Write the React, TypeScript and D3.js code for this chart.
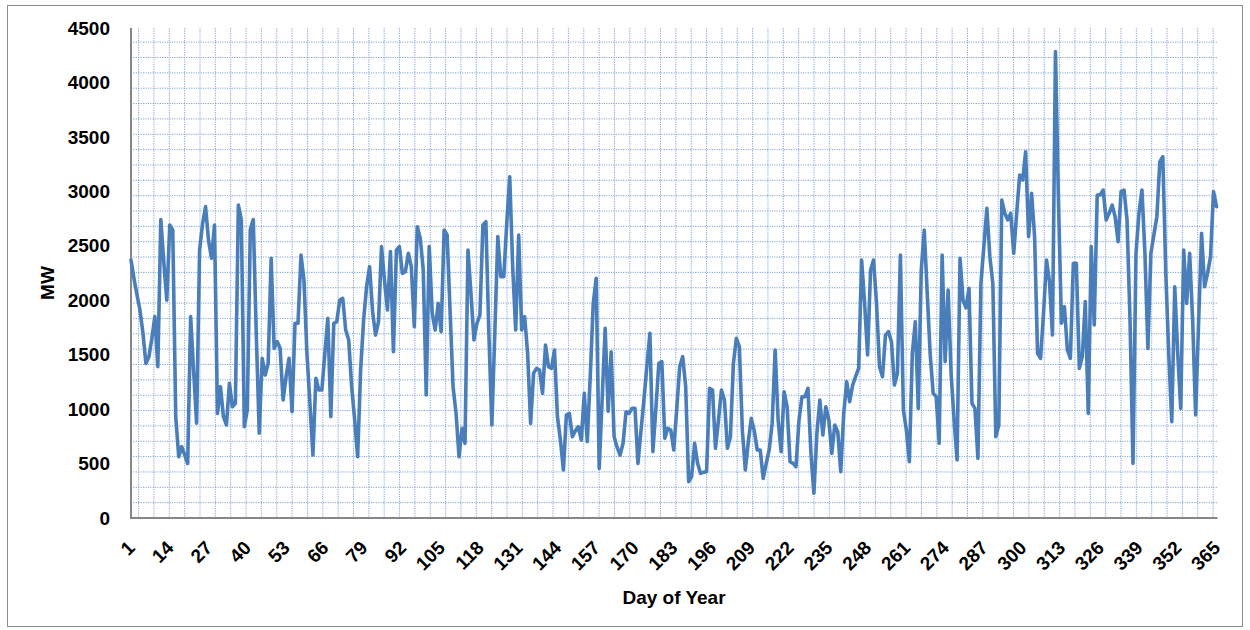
import React from "react";
import * as d3 from "d3";

// Daily peak demand (MW), split by quarter
const q1: number[] = [
  2370, 2200, 2050, 1910, 1700, 1420, 1480, 1650, 1850, 1390,
  2740, 2350, 2000, 2690, 2645, 930, 563, 655, 580, 500,
  1850, 1350, 870, 2460, 2700, 2860, 2550, 2385, 2690, 960,
  1206, 930, 854, 1237, 1022, 1053, 2874, 2737, 839, 992,
  2650, 2740, 1700, 778, 1466, 1313, 1420, 2385, 1558, 1620,
  1558, 1084, 1298, 1466, 976, 1788, 1788, 2415, 2186, 1512,
  1053, 578, 1283, 1175, 1175, 1512, 1834, 930, 1788, 1803,
  2002, 2017, 1726, 1635, 1206, 900, 563, 1360, 1818, 2124,
  2308, 1900, 1680, 1803, 2492, 2186, 1910, 2446, 1527, 2461,
];
const q2: number[] = [
  2492, 2247, 2262, 2431, 2308, 1757, 2675, 2568, 2278, 1130,
  2492, 1880, 1726, 1971, 1711, 2645, 2599, 1900, 1206, 961,
  563, 823, 686, 2461, 2063, 1635, 1788, 1864, 2690, 2721,
  1700, 854, 1700, 2584, 2216, 2216, 2706, 3134, 2300, 1726,
  2599, 1726, 1849, 1512, 869, 1329, 1374, 1359, 1145, 1589,
  1390, 1374, 1543, 930, 716, 441, 946, 961, 747, 800,
  839, 716, 1145, 701, 1300, 1971, 2201, 456, 1100, 1742,
  980, 1527, 747, 650, 578, 686, 976, 961, 1007, 1007,
  502, 800, 1084, 1400, 1696, 609, 1000, 1420, 1436, 732,
  823,
];
const q3: number[] = [
  808, 625, 1000, 1390, 1482, 1206, 334, 380, 686, 500,
  410, 420, 425, 1191, 1175, 640, 900, 1175, 1084, 640,
  747, 1420, 1650, 1573, 808, 441, 700, 915, 800, 625,
  625, 364, 500, 625, 869, 1543, 900, 609, 1160, 1022,
  517, 502, 471, 900, 1114, 1114, 1191, 594, 227, 778,
  1084, 762, 1022, 900, 594, 854, 793, 425, 961, 1252,
  1068, 1221, 1300, 1374, 2369, 1971, 1497, 2278, 2369, 1971,
  1390, 1298, 1680, 1711, 1619, 1221, 1329, 2415, 992, 808,
  517, 1512, 1803, 1007, 2278, 2645, 2063, 1500, 1145, 1114,
  686, 2415,
];
const q4: number[] = [
  1436, 2094, 1329, 900, 533, 2385, 2000, 1930, 2109, 1053,
  1007, 548, 2155, 2500, 2844, 2400, 2155, 747, 854, 2920,
  2800, 2737, 2798, 2431, 2800, 3150, 3104, 3364, 2584, 2982,
  2584, 1512, 1466, 1880, 2369, 2170, 1680, 4283, 2920, 1788,
  1941, 1543, 1466, 2339, 2339, 1374, 1482, 1987, 960, 2492,
  1772, 2966, 2966, 3012, 2737, 2798, 2874, 2767, 2538, 2997,
  3012, 2737, 1818, 502, 2431, 2800, 3012, 2431, 1558, 2431,
  2600, 2767, 3272, 3318, 2247, 1500, 885, 2124, 1512, 1007,
  2461, 1971, 2431, 1818, 946, 1800, 2614, 2124, 2247, 2400,
  2997, 2859,
];

const yTicks: number[] = [0, 500, 1000, 1500, 2000, 2500, 3000, 3500, 4000, 4500];
const xTickDays: number[] = d3.range(1, 366, 13);

const values = [...q1, ...q2, ...q3, ...q4];
const data = values.map((v, i) => ({ day: i + 1, mw: v }));

const W = 1250;
const H = 630;
const left = 131;
const right = 1216.5;
const top = 28;
const bottom = 518;
const FONT = "'Liberation Sans', Arial, sans-serif";

export default function App() {
  const x = d3.scaleLinear().domain([1, 365]).range([left, right]);
  const y = d3.scaleLinear().domain([0, 4500]).range([bottom, top]);
  const line = d3
    .line<{ day: number; mw: number }>()
    .x((d) => x(d.day))
    .y((d) => y(d.mw));

  const cell = 15.35;
  const hGrid = d3.range(bottom - cell, top, -cell);
  const vGrid = d3.range(left + 7.6, right + 1, cell);

  return (
    <svg
      width={W}
      height={H}
      style={{ position: "absolute", left: 0, top: 0, display: "block", background: "#fff" }}
    >
      <rect x={7.5} y={5.5} width={1235} height={621} fill="#fff" stroke="#8c8c8c" strokeWidth={1} />
      <g stroke="#7fa4d4" strokeWidth={1} strokeDasharray="1.2,1.2">
        {hGrid.map((gy, i) => (
          <line key={"h" + i} x1={left} x2={right + 1} y1={gy} y2={gy} />
        ))}
        {vGrid.map((gx, i) => (
          <line key={"v" + i} x1={gx} x2={gx} y1={top} y2={bottom} />
        ))}
      </g>
      <line x1={left} x2={left} y1={top} y2={bottom + 1} stroke="#868686" strokeWidth={2} />
      <line x1={left - 1} x2={right + 1} y1={bottom} y2={bottom} stroke="#868686" strokeWidth={2} />
      <path
        d={line(data) || ""}
        fill="none"
        stroke="#4a7ebb"
        strokeWidth={3.6}
        strokeLinejoin="round"
        strokeLinecap="round"
      />
      <g fontFamily={FONT} fontWeight="bold" fontSize={19} fill="#000">
        {yTicks.map((t) => (
          <text key={t} x={110} y={y(t)} dy="0.35em" textAnchor="end">
            {t}
          </text>
        ))}
        {xTickDays.map((d) => (
          <text
            key={d}
            textAnchor="end"
            transform={`translate(${x(d) + 5},549) rotate(-45)`}
          >
            {d}
          </text>
        ))}
        <text x={674} y={604} textAnchor="middle">
          Day of Year
        </text>
        <text transform="translate(54,283) rotate(-90)" textAnchor="middle">
          MW
        </text>
      </g>
    </svg>
  );
}
